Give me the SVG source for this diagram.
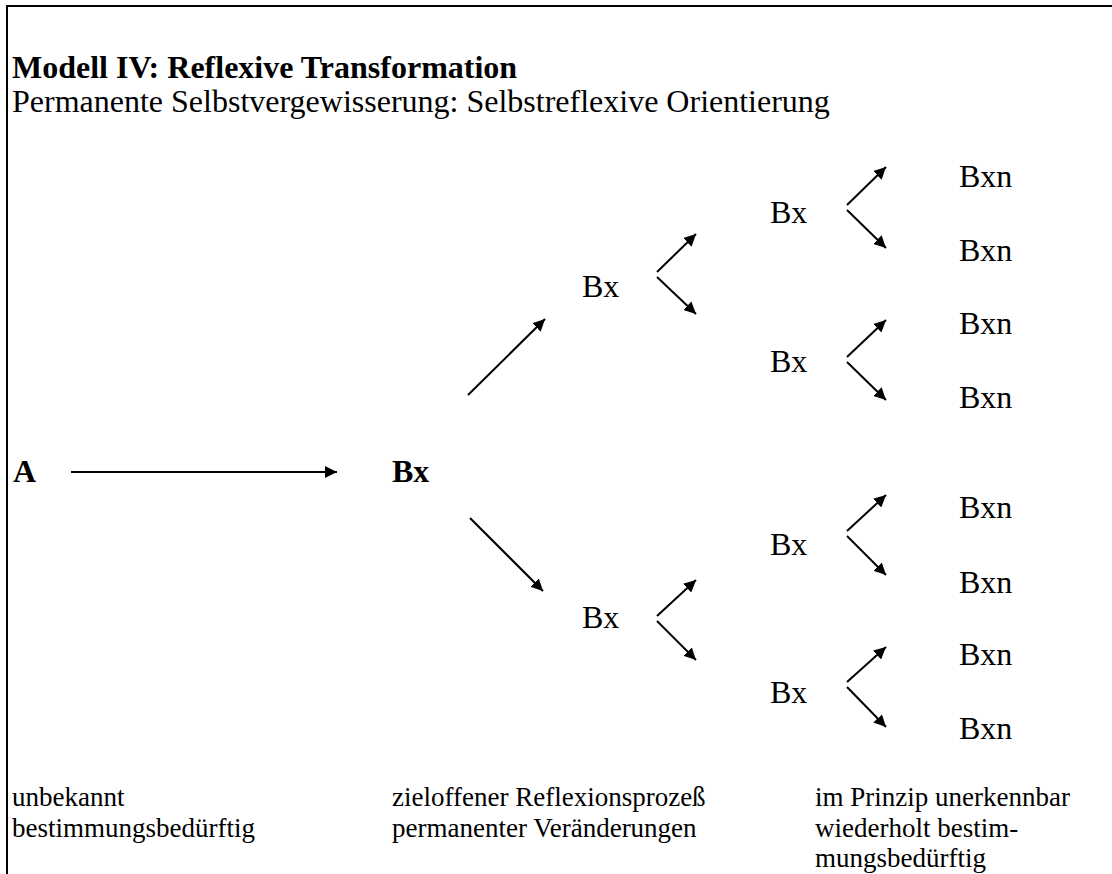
<svg xmlns="http://www.w3.org/2000/svg" width="1112" height="874" viewBox="0 0 1112 874">
<style>
text{font-family:"Liberation Serif","Times New Roman",serif;fill:#000;font-size:32px}
.b{font-weight:bold}
.cap{font-size:27px}
.c{stroke:#000;stroke-width:2;fill:none}
</style>
<defs>
<marker id="ah" viewBox="0 0 10 10" refX="10" refY="5" markerWidth="6" markerHeight="6" markerUnits="strokeWidth" orient="auto">
<path d="M0,0 L10,5 L0,10 Z" fill="#000"/>
</marker>
</defs>
<rect width="1112" height="874" fill="#fff"/>
<path d="M1112,6 H7 V874" class="c"/>
<g id="title">
<text class="b" x="12" y="78">Modell IV: Reflexive Transformation</text>
<text x="12" y="112">Permanente Selbstvergewisserung: Selbstreflexive Orientierung</text>
</g>
<g id="nA"><text class="b" x="13" y="482">A</text></g>
<g id="nB"><text class="b" x="392" y="482">Bx</text></g>
<g id="nB1"><text x="582" y="297">Bx</text></g>
<g id="nB2"><text x="582" y="628">Bx</text></g>
<g id="nB11"><text x="770" y="223">Bx</text></g>
<g id="nB12"><text x="770" y="372">Bx</text></g>
<g id="nB21"><text x="770" y="555">Bx</text></g>
<g id="nB22"><text x="770" y="703">Bx</text></g>
<g id="nBxn1"><text x="959" y="187">Bxn</text></g>
<g id="nBxn2"><text x="959" y="261">Bxn</text></g>
<g id="nBxn3"><text x="959" y="334">Bxn</text></g>
<g id="nBxn4"><text x="959" y="408">Bxn</text></g>
<g id="nBxn5"><text x="959" y="518">Bxn</text></g>
<g id="nBxn6"><text x="959" y="593">Bxn</text></g>
<g id="nBxn7"><text x="959" y="665">Bxn</text></g>
<g id="nBxn8"><text x="959" y="739">Bxn</text></g>
<g id="connectors" class="c" marker-end="url(#ah)">
<line x1="71" y1="472" x2="337" y2="472"/>
<line x1="468" y1="395" x2="545" y2="319"/>
<line x1="470" y1="518" x2="543" y2="591"/>
<line x1="657" y1="272" x2="696" y2="234"/>
<line x1="657" y1="277" x2="696" y2="314"/>
<line x1="657" y1="616" x2="696" y2="580"/>
<line x1="657" y1="621" x2="696" y2="660"/>
<line x1="847" y1="205" x2="886" y2="167"/>
<line x1="847" y1="210" x2="886" y2="248"/>
<line x1="847" y1="357" x2="886" y2="320"/>
<line x1="847" y1="362" x2="886" y2="400"/>
<line x1="847" y1="531" x2="886" y2="495"/>
<line x1="847" y1="536" x2="886" y2="575"/>
<line x1="847" y1="682" x2="886" y2="647"/>
<line x1="847" y1="687" x2="886" y2="727"/>
</g>
<g id="captions">
<text class="cap" x="12" y="806">unbekannt</text>
<text class="cap" x="12" y="837">bestimmungsbedürftig</text>
<text class="cap" x="392" y="806">zieloffener Reflexionsprozeß</text>
<text class="cap" x="392" y="837">permanenter Veränderungen</text>
<text class="cap" x="815" y="806">im Prinzip unerkennbar</text>
<text class="cap" x="815" y="837">wiederholt bestim-</text>
<text class="cap" x="815" y="867">mungsbedürftig</text>
</g>
</svg>
